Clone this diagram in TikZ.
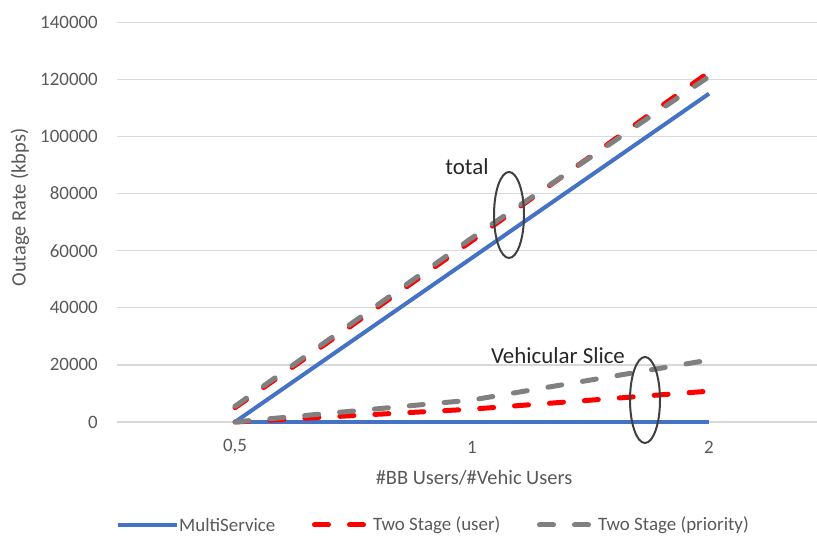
\documentclass[tikz,border=0pt]{standalone}
\usepackage{fontspec}
\setmainfont{Carlito}
\definecolor{msblue}{HTML}{4472C4}
\definecolor{tsred}{HTML}{FF0000}
\definecolor{tsgray}{HTML}{808080}
\definecolor{gridgray}{HTML}{D9D9D9}
\definecolor{labelgray}{HTML}{595959}
\definecolor{ringgray}{HTML}{404040}
\begin{document}
\begin{tikzpicture}[x=1bp,y=1bp,
   gridline/.style={draw=gridgray,line width=1.3bp},
   ticklabel/.style={text=labelgray,font=\fontsize{19}{22}\selectfont,inner sep=0pt},
   axistitle/.style={text=labelgray,font=\fontsize{20.5}{24}\selectfont,inner sep=0pt},
   notelabel/.style={text=black!85,font=\fontsize{23}{26}\selectfont,inner sep=0pt},
   multiservice/.style={draw=msblue,line width=4bp},
   twouser/.style={draw=tsred,line width=5bp,line cap=round,dash pattern=on 14bp off 21bp},
   twoprio/.style={draw=tsgray,line width=5bp,line cap=round,dash pattern=on 14bp off 21bp},
   bubble/.style={draw=ringgray,line width=2bp}]
   \useasboundingbox (0,0) rectangle (817,537);

   % grid and value axis
   \foreach \v in {0,20,...,140}
     \draw[gridline] (117,115+\v*2.855) -- (825,115+\v*2.855);
   \foreach \v in {20,40,...,140}
     \node[ticklabel,anchor=east] (ytick\v) at (98,115+\v*2.855) {\v000};
   \node[ticklabel,anchor=east] (ytick0) at (98,115) {0};
   \node[axistitle,rotate=90] (ytitle) at (20,329.5) {Outage Rate (kbps)};

   % category axis
   \node[ticklabel] (xtick05) at (235,90) {0,5};
   \node[ticklabel] (xtick1) at (472,90) {1};
   \node[ticklabel] (xtick2) at (709,90) {2};
   \node[axistitle] (xtitle) at (474,59) {\#BB Users/\#Vehic Users};

   % series
   \begin{scope}[shift={(235bp,115bp)},x=237bp,y=2.855bp]
   \draw[multiservice] (0,0) -- (1,57.5) -- (2,115);
   \draw[multiservice] (0,0) -- (2,0);
   \draw[twouser] (0,5) -- (1,63.5) -- (2,122.5);
   \draw[twouser] (0,0) -- (1,4.5) -- (2,10.8);
   \draw[twoprio] (0,5.5) -- (1,64.5) -- (2,121);
   \draw[twoprio] (0,0) -- (1,7.7) -- (2,21.7);
   \end{scope}

   % annotations
   \draw[bubble] (509,322) ellipse[x radius=15,y radius=43];
   \draw[bubble] (645,137) ellipse[x radius=15,y radius=43];
   \node[notelabel] (total) at (467,370) {total};
   \node[notelabel] (vehic) at (558,181) {Vehicular Slice};

   % legend
   \draw[multiservice] (118,12) -- (177,12);
   \node[ticklabel,anchor=west] (legms) at (179,12) {MultiService};
   \draw[twouser] (314.5,12) -- (364.5,12);
   \node[ticklabel,anchor=west] (legtu) at (373,12) {Two Stage (user)};
   \draw[twoprio] (539.5,12) -- (590.5,12);
   \node[ticklabel,anchor=west] (legtp) at (598,12) {Two Stage (priority)};
\end{tikzpicture}
\end{document}
